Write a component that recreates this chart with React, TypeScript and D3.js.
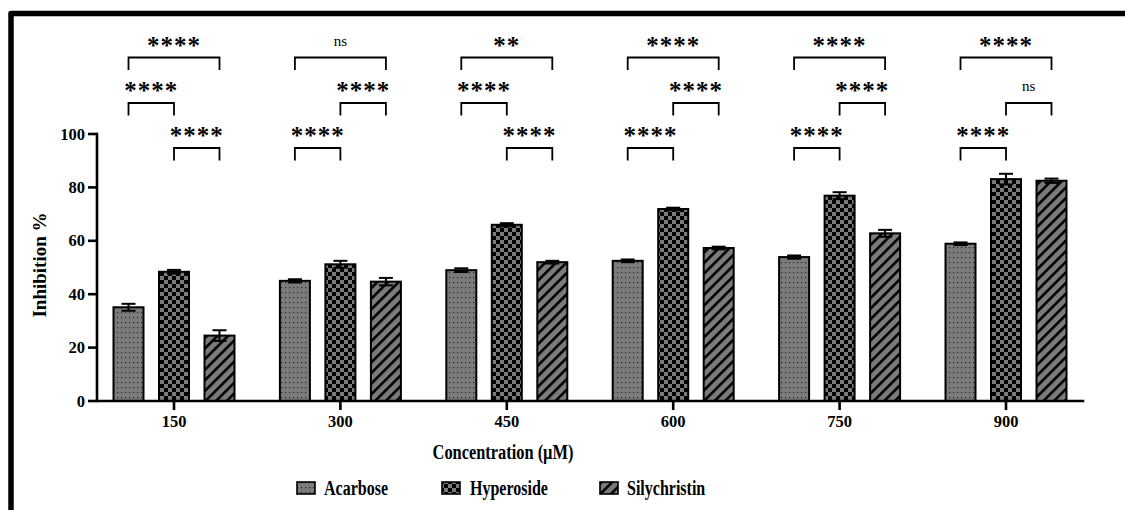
import React from 'react';
import * as d3 from 'd3';

// Concentrations tested (µM)
const categories = ['150', '300', '450', '600', '750', '900'];

// Mean inhibition (%) and error for each compound
const acarbose = [35.1, 45.0, 49.0, 52.5, 53.9, 58.9];
const acarboseErr = [1.3, 0.6, 0.7, 0.5, 0.6, 0.5];
const hyperoside = [48.4, 51.2, 66.0, 71.9, 76.9, 83.1];
const hyperosideErr = [0.7, 1.3, 0.6, 0.5, 1.3, 2.0];
const silychristin = [24.5, 44.7, 52.0, 57.3, 62.8, 82.5];
const silychristinErr = [2.0, 1.4, 0.5, 0.5, 1.3, 0.8];

// Pairwise significance labels per concentration
const sigAcarboseSilychristin = ['****', 'ns', '**', '****', '****', '****'];
const sigAcarboseHyperoside = ['****', '****', '****', '****', '****', '****'];
const sigHyperosideSilychristin = ['****', '****', '****', '****', '****', 'ns'];
// Which short comparison sits on the middle row (the other goes lowest)
const middleRow = ['AH', 'HS', 'AH', 'HS', 'HS', 'HS'];

const yTicks = [0, 20, 40, 60, 80, 100];

const seriesNames = ['Acarbose', 'Hyperoside', 'Silychristin'];
const seriesPatterns = ['pat-dots', 'pat-check', 'pat-stripes'];

const W = 1125;
const H = 510;
const FONT = '"Liberation Serif", "Times New Roman", serif';
const GRAY = '#7b7b7b';

export default function App() {
  const axisLeft = 97;
  const axisRight = 1083;
  const y = d3.scaleLinear().domain([0, 100]).range([401, 134]);
  const x = d3
    .scalePoint<string>()
    .domain(categories)
    .range([axisLeft + 77, axisRight - 77]);
  const offset = d3.scalePoint<number>().domain([0, 1, 2]).range([-45.5, 45.5]);
  const barW = 30;

  const series = [
    { values: acarbose, errs: acarboseErr },
    { values: hyperoside, errs: hyperosideErr },
    { values: silychristin, errs: silychristinErr },
  ];

  const rowY = [57.5, 103, 148];
  const legH = 12;

  const bracket = (x1: number, x2: number, yy: number, label: string, key: string) => {
    const cx = (x1 + x2) / 2;
    const isNs = label === 'ns';
    return (
      <g key={key}>
        <path
          d={`M${x1},${yy + 12.5}V${yy}H${x2}V${yy + 12.5}`}
          fill="none"
          stroke="#000"
          strokeWidth={1.8}
        />
        {isNs ? (
          <text
            x={cx}
            y={yy - 12}
            textAnchor="middle"
            fontFamily={FONT}
            fontSize={15}
            fill="#000"
          >
            {label}
          </text>
        ) : (
          <text
            x={cx}
            y={yy - 4}
            textAnchor="middle"
            fontFamily={FONT}
            fontWeight="bold"
            fontSize={25}
            letterSpacing={1}
            fill="#000"
          >
            {label}
          </text>
        )}
      </g>
    );
  };

  const legendItems = [
    { x: 297, textX: 324 },
    { x: 442, textX: 470 },
    { x: 600, textX: 627 },
  ];

  return (
    <svg
      width={W}
      height={H}
      style={{ position: 'absolute', left: 0, top: 0, background: '#fff' }}
    >
      <defs>
        <pattern id="pat-dots" patternUnits="userSpaceOnUse" width={4} height={5}>
          <rect width={4} height={5} fill={GRAY} />
          <rect x={1} y={2} width={1.2} height={1.2} fill="#2a2a2a" />
        </pattern>
        <pattern id="pat-check" patternUnits="userSpaceOnUse" width={8} height={8}>
          <rect width={8} height={8} fill={GRAY} />
          <rect width={4} height={4} fill="#000" />
          <rect x={4} y={4} width={4} height={4} fill="#000" />
        </pattern>
        <pattern
          id="pat-stripes"
          patternUnits="userSpaceOnUse"
          width={7.5}
          height={7.5}
          patternTransform="rotate(45)"
        >
          <rect width={7.5} height={7.5} fill={GRAY} />
          <rect width={2.6} height={7.5} fill="#000" />
        </pattern>
      </defs>

      {/* outer frame (left and top edges) */}
      <path
        d={`M11,${H}V13.5H${W}`}
        fill="none"
        stroke="#000"
        strokeWidth={5.5}
        strokeLinejoin="round"
      />

      {/* bars */}
      {series.map((s, si) =>
        categories.map((c, ci) => {
          const cx = (x(c) as number) + (offset(si) as number);
          const v = s.values[ci];
          return (
            <rect
              key={`b-${si}-${ci}`}
              x={cx - barW / 2}
              y={y(v)}
              width={barW}
              height={y(0) - y(v)}
              fill={`url(#${seriesPatterns[si]})`}
              stroke="#000"
              strokeWidth={2}
            />
          );
        })
      )}

      {/* error bars */}
      {series.map((s, si) =>
        categories.map((c, ci) => {
          const cx = (x(c) as number) + (offset(si) as number);
          const v = s.values[ci];
          const e = s.errs[ci];
          const top = y(v + e);
          const bot = y(v - e);
          return (
            <g key={`e-${si}-${ci}`} stroke="#000" strokeWidth={2}>
              <line x1={cx} x2={cx} y1={top} y2={bot} />
              <line x1={cx - 7} x2={cx + 7} y1={top} y2={top} />
              <line x1={cx - 7} x2={cx + 7} y1={bot} y2={bot} />
            </g>
          );
        })
      )}

      {/* axes */}
      <g stroke="#000" strokeWidth={2.6} fill="none">
        <path d={`M${axisLeft},${y(100)}V${y(0)}H${axisRight}`} strokeLinecap="square" />
        {yTicks.map((t) => (
          <line key={`yt-${t}`} x1={axisLeft - 9} x2={axisLeft} y1={y(t)} y2={y(t)} />
        ))}
        {categories.map((c) => (
          <line key={`xt-${c}`} x1={x(c)} x2={x(c)} y1={y(0)} y2={y(0) + 9} />
        ))}
      </g>
      {yTicks.map((t) => (
        <text
          key={`yl-${t}`}
          x={axisLeft - 12}
          y={y(t) + 5.5}
          textAnchor="end"
          fontFamily={FONT}
          fontWeight="bold"
          fontSize={16.5}
        >
          {t}
        </text>
      ))}
      {categories.map((c) => (
        <text
          key={`xl-${c}`}
          x={x(c)}
          y={427}
          textAnchor="middle"
          fontFamily={FONT}
          fontWeight="bold"
          fontSize={16.5}
        >
          {c}
        </text>
      ))}

      {/* axis titles */}
      <text
        transform={`translate(46,265) rotate(-90)`}
        textAnchor="middle"
        fontFamily={FONT}
        fontWeight="bold"
        fontSize={19}
      >
        Inhibition %
      </text>
      <text
        transform={`translate(503,459) scale(0.82,1)`}
        textAnchor="middle"
        fontFamily={FONT}
        fontWeight="bold"
        fontSize={20}
      >
        Concentration (µM)
      </text>

      {/* significance brackets */}
      {categories.map((c, ci) => {
        const xa = (x(c) as number) + (offset(0) as number);
        const xh = (x(c) as number) + (offset(1) as number);
        const xs = (x(c) as number) + (offset(2) as number);
        const ahRow = middleRow[ci] === 'AH' ? 1 : 2;
        const hsRow = ahRow === 1 ? 2 : 1;
        return (
          <g key={`sig-${c}`}>
            {bracket(xa, xs, rowY[0], sigAcarboseSilychristin[ci], `as-${c}`)}
            {bracket(xa, xh, rowY[ahRow], sigAcarboseHyperoside[ci], `ah-${c}`)}
            {bracket(xh, xs, rowY[hsRow], sigHyperosideSilychristin[ci], `hs-${c}`)}
          </g>
        );
      })}

      {/* legend */}
      {seriesNames.map((name, i) => (
        <g key={`leg-${name}`}>
          <rect
            x={legendItems[i].x}
            y={482}
            width={18}
            height={legH}
            fill={`url(#${seriesPatterns[i]})`}
            stroke="#000"
            strokeWidth={1.6}
          />
          <text
            transform={`translate(${legendItems[i].textX},495) scale(0.8,1)`}
            fontFamily={FONT}
            fontWeight="bold"
            fontSize={20}
          >
            {name}
          </text>
        </g>
      ))}
    </svg>
  );
}
